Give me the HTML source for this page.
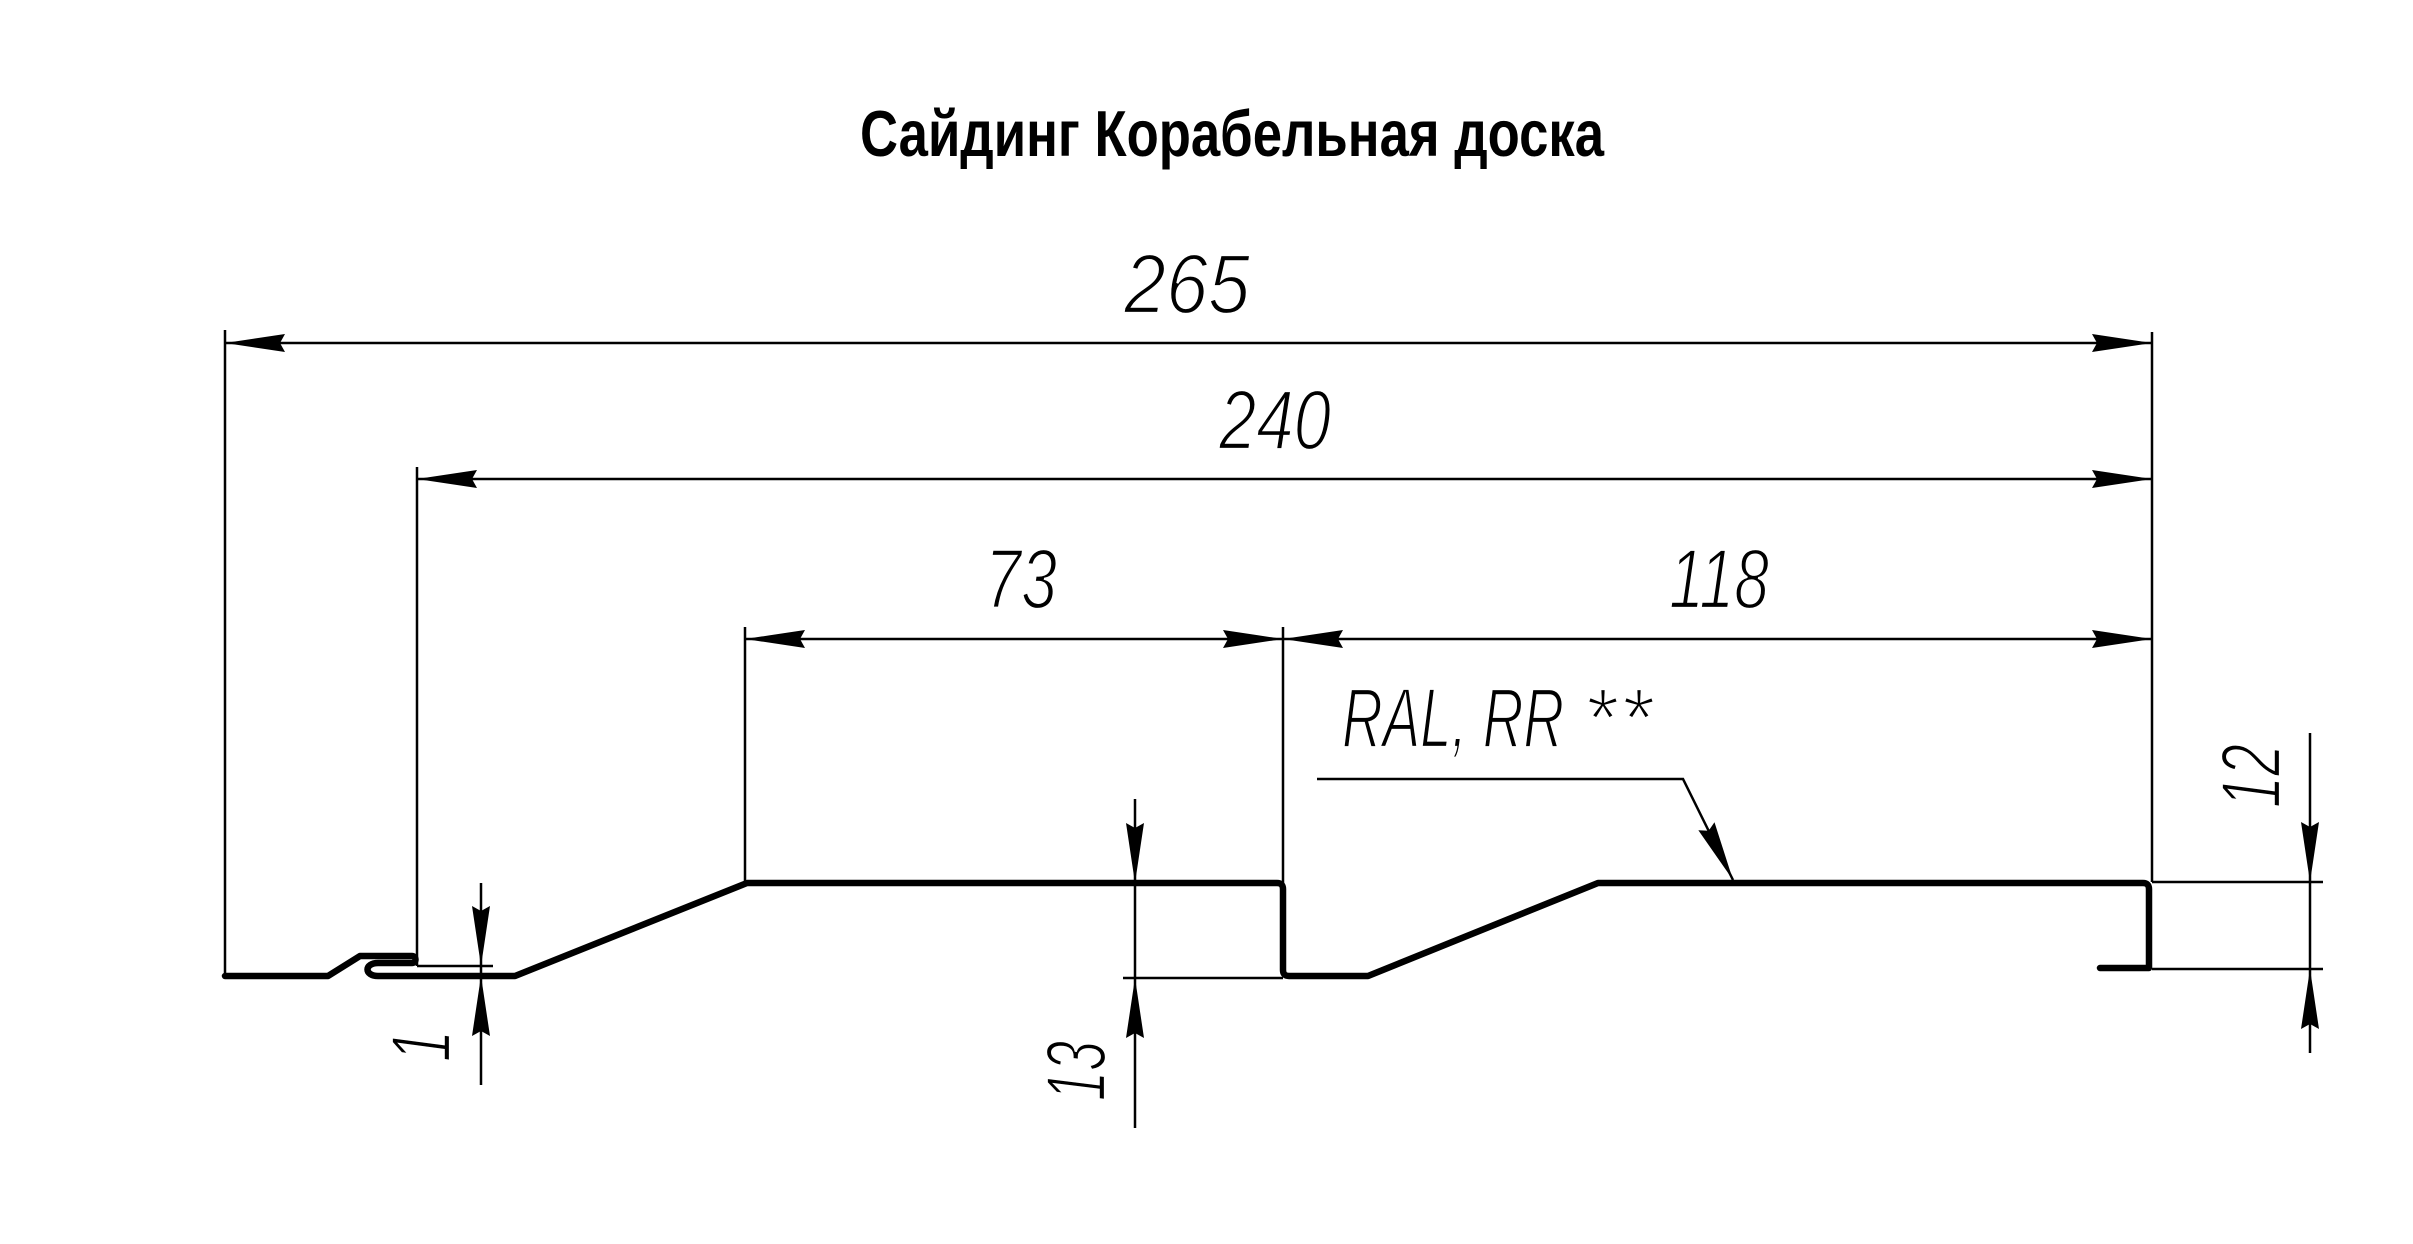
<!DOCTYPE html>
<html>
<head>
<meta charset="utf-8">
<style>
  html,body{margin:0;padding:0;background:#fff;}
  body{width:2413px;height:1244px;overflow:hidden;}
  svg{display:block;}
  .dim{font-family:"Liberation Sans",sans-serif;font-style:italic;font-size:84px;fill:#000;stroke:#fff;stroke-width:2.2px;}
  .title{font-family:"Liberation Sans","Noto Sans CJK SC",sans-serif;font-weight:bold;font-size:65px;fill:#000;}
</style>
</head>
<body>
<svg width="2413" height="1244" viewBox="0 0 2413 1244" xmlns="http://www.w3.org/2000/svg">
  <defs>
    <path id="ar" d="M0,0 L60,-9 L55,0 L60,9 Z" fill="#000"/>
  </defs>
  <rect width="2413" height="1244" fill="#fff"/>

  <!-- Title -->
  <text class="title" x="860" y="156" textLength="744" lengthAdjust="spacingAndGlyphs">Сайдинг Корабельная доска</text>

  <!-- extension lines -->
  <g stroke="#000" stroke-width="2.5" fill="none">
    <line x1="225" y1="330" x2="225" y2="976"/>
    <line x1="417" y1="467" x2="417" y2="966"/>
    <line x1="745" y1="627" x2="745" y2="883"/>
    <line x1="1283" y1="627" x2="1283" y2="883"/>
    <line x1="2152" y1="332" x2="2152" y2="882"/>
    <!-- dim lines -->
    <line x1="225" y1="343" x2="2152" y2="343"/>
    <line x1="417" y1="479" x2="2152" y2="479"/>
    <line x1="745" y1="639" x2="2152" y2="639"/>
    <!-- dimension 1 -->
    <line x1="417" y1="966" x2="493" y2="966"/>
    <line x1="481" y1="883" x2="481" y2="1085"/>
    <!-- dimension 13 -->
    <line x1="1123" y1="978" x2="1283" y2="978"/>
    <line x1="1135" y1="799" x2="1135" y2="1128"/>
    <!-- dimension 12 -->
    <line x1="2152" y1="882" x2="2323" y2="882"/>
    <line x1="2152" y1="969" x2="2323" y2="969"/>
    <line x1="2310" y1="733" x2="2310" y2="1053"/>
    <!-- leader -->
    <polyline points="1317,779 1683,779 1733,880"/>
  </g>

  <!-- arrowheads -->
  <use href="#ar" transform="translate(225,343)"/>
  <use href="#ar" transform="translate(2152,343) rotate(180)"/>
  <use href="#ar" transform="translate(417,479)"/>
  <use href="#ar" transform="translate(2152,479) rotate(180)"/>
  <use href="#ar" transform="translate(745,639)"/>
  <use href="#ar" transform="translate(1283,639) rotate(180)"/>
  <use href="#ar" transform="translate(1283,639)"/>
  <use href="#ar" transform="translate(2152,639) rotate(180)"/>
  <use href="#ar" transform="translate(481,966) rotate(-90)"/>
  <use href="#ar" transform="translate(481,976) rotate(90)"/>
  <use href="#ar" transform="translate(1135,883) rotate(-90)"/>
  <use href="#ar" transform="translate(1135,978) rotate(90)"/>
  <use href="#ar" transform="translate(2310,882) rotate(-90)"/>
  <use href="#ar" transform="translate(2310,969) rotate(90)"/>
  <use href="#ar" transform="translate(1733,880) rotate(-116.3)"/>

  <!-- profile -->
  <path d="M225,976 L328,976 L360,956 L412,956 A3.5,3.5 0 0 1 412,963 L378,963 C364,963 364,976 378,976 L515,976 L747,883 L1277,883 Q1283,883 1283,889 L1283,970 Q1283,976 1289,976 L1368,976 L1598,883 L2143,883 Q2149,883 2149,889 L2149,968 L2100,968"
        fill="none" stroke="#000" stroke-width="6.5" stroke-linejoin="round" stroke-linecap="round"/>

  <!-- dimension texts -->
  <text class="dim" x="1124" y="313" textLength="126" lengthAdjust="spacingAndGlyphs">265</text>
  <text class="dim" x="1219" y="449" textLength="112" lengthAdjust="spacingAndGlyphs">240</text>
  <text class="dim" x="985" y="608" textLength="72" lengthAdjust="spacingAndGlyphs">73</text>
  <text class="dim" x="1669" y="608" textLength="100" lengthAdjust="spacingAndGlyphs">118</text>
  <text class="dim" x="1342" y="747" textLength="222" lengthAdjust="spacingAndGlyphs">RAL, RR</text>
  <text class="dim" x="1583" y="747">*</text>
  <text class="dim" x="1619" y="747">*</text>
  <text class="dim" transform="translate(2280,808) rotate(-90)" x="0" y="0" textLength="64" lengthAdjust="spacingAndGlyphs">12</text>
  <text class="dim" transform="translate(1105,1101) rotate(-90)" x="0" y="0" textLength="60" lengthAdjust="spacingAndGlyphs">13</text>
  <text class="dim" transform="translate(450,1062) rotate(-90)" x="0" y="0" textLength="32" lengthAdjust="spacingAndGlyphs">1</text>
</svg>
</body>
</html>
